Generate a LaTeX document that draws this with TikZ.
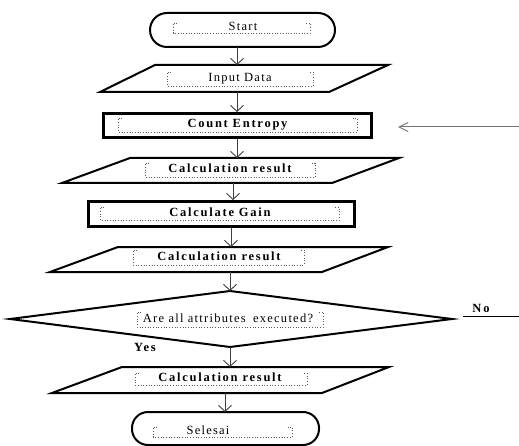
\documentclass[tikz,border=0pt]{standalone}
\usepackage{fontspec}
\setmainfont{Liberation Serif}
\newfontfamily\reglbl[LetterSpace=10]{Liberation Serif}
\newfontfamily\boldlbl[LetterSpace=14]{Liberation Serif}
\usetikzlibrary{arrows.meta}
\tikzset{
  shp/.style={draw=black, line width=2bp, line join=miter},
  thk/.style={draw=black, line width=3bp},
  dotln/.style={draw=black!65, dotted, line width=0.7bp},
  dholder/.style={inner sep=0pt, outer sep=0pt},
  rtxt/.style={font=\fontsize{12.5bp}{14bp}\reglbl, inner sep=0pt, text height=1.5ex, text depth=.25ex},
  btxt/.style={font=\fontsize{12.5bp}{14bp}\boldlbl\bfseries, inner sep=0pt, text height=1.5ex, text depth=.25ex},
  flow/.style={draw=black!75, line width=0.9bp, -{Straight Barb[length=6bp,width=13bp,line width=0.9bp]}},
  sideflow/.style={draw=black!55, line width=1bp, -{Straight Barb[length=9bp,width=9bp,line width=1bp]}},
}
\newcommand\dbrack[1]{\draw[dotln] ([xshift=4bp]#1.north west) -- (#1.north west) -- (#1.south west) -- (#1.south east) -- (#1.north east) -- ([xshift=-4bp]#1.north east);}
\begin{document}
\begin{tikzpicture}[x=1bp,y=-1bp]
\useasboundingbox (0,0) rectangle (519,446);

% shapes
\draw[shp, rounded corners=17bp] (150,13) rectangle (335,47);
\draw[shp] (155,65) -- (388,65) -- (329,92) -- (100,92) -- cycle;
\draw[thk] (103.5,113.5) rectangle (371.5,137.5);
\draw[shp] (130,158) -- (399,158) -- (332,183) -- (62,183) -- cycle;
\draw[thk] (88.5,201.5) rectangle (354.5,226.5);
\draw[shp] (118,247) -- (388,247) -- (322,272) -- (50,272) -- cycle;
\draw[shp] (10,319) -- (230,291) -- (452,319) -- (230,347) -- cycle;
\draw[shp] (122,367) -- (389,367) -- (322,393) -- (52,393) -- cycle;
\draw[shp, rounded corners=16bp] (132,412) rectangle (319,445);

% connection points
\coordinate (startB) at (237,47);
\coordinate (inT) at (237,65);
\coordinate (inB) at (237,92);
\coordinate (ceT) at (237,112);
\coordinate (ceB) at (237,139);
\coordinate (c1T) at (237,158);
\coordinate (c1B) at (233,183);
\coordinate (cgT) at (233,200);
\coordinate (cgB) at (231,228);
\coordinate (c2T) at (231,247);
\coordinate (c2B) at (230,272);
\coordinate (decT) at (230,291);
\coordinate (decB) at (230,347);
\coordinate (c3T) at (230,367);
\coordinate (c3B) at (225,393);
\coordinate (endT) at (225,412);
\coordinate (sideS) at (519,127);
\coordinate (sideE) at (398,127);
\coordinate (noL) at (463,316);
\coordinate (noR) at (519,316);

% dotted text frames
\node[dholder, minimum width=137bp, minimum height=10bp] (b1) at (241.5,28) {};
\node[dholder, minimum width=146bp, minimum height=14bp] (b2) at (240,79) {};
\node[dholder, minimum width=239bp, minimum height=14bp] (b3) at (237.5,125) {};
\node[dholder, minimum width=170bp, minimum height=14bp] (b4) at (230,170) {};
\node[dholder, minimum width=239bp, minimum height=13bp] (b5) at (219.5,213.5) {};
\node[dholder, minimum width=171bp, minimum height=15bp] (b6) at (218.5,257.5) {};
\node[dholder, minimum width=186bp, minimum height=15bp] (b7) at (230,319.5) {};
\node[dholder, minimum width=172bp, minimum height=12bp] (b8) at (221,379) {};
\node[dholder, minimum width=139bp, minimum height=10bp] (b9) at (222.5,432) {};
\dbrack{b1}\dbrack{b2}\dbrack{b3}\dbrack{b4}\dbrack{b5}\dbrack{b6}\dbrack{b7}\dbrack{b8}\dbrack{b9}

% labels
\node[rtxt] (t1) at (243,28) {Start};
\node[rtxt] (t2) at (240,79) {Input Data};
\node[btxt] (t3) at (237.5,125) {Count Entropy};
\node[btxt] (t4) at (230,170) {Calculation result};
\node[btxt] (t5) at (220,213.5) {Calculate Gain};
\node[btxt] (t6) at (219,257.5) {Calculation result};
\node[rtxt] (t7) at (228,319.5) {Are all attributes\hspace{3bp} executed?};
\node[btxt] (t8) at (220,379) {Calculation result};
\node[rtxt] (t9) at (208,432) {Selesai};
\node[btxt] (yes) at (145,349) {Yes};
\node[btxt] (no) at (481,310) {No};

% connectors
\draw[flow] (startB) -- (inT);
\draw[flow] (inB) -- (ceT);
\draw[flow] (ceB) -- (c1T);
\draw[flow] (c1B) -- (cgT);
\draw[flow] (cgB) -- (c2T);
\draw[flow] (c2B) -- (decT);
\draw[flow] (decB) -- (c3T);
\draw[flow] (c3B) -- (endT);
\draw[sideflow] (sideS) -- (sideE);
\draw[draw=black, line width=1bp] (noL) -- (noR);
\end{tikzpicture}
\end{document}
